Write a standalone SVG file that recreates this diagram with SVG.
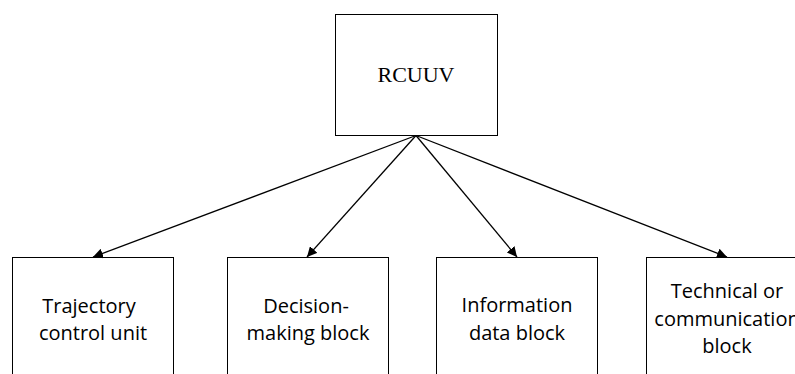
<svg xmlns="http://www.w3.org/2000/svg" width="795" height="374" viewBox="0 0 795 374">
<style>
.box{fill:#fff;stroke:#000;stroke-width:1}
.t{font-family:"Open Sans","Liberation Sans",sans-serif;font-size:20px;fill:#000;text-anchor:middle}
.tm{font-family:"Liberation Serif","Times New Roman",serif;font-size:22px;fill:#000;text-anchor:middle}
.c{stroke:#000;stroke-width:1.3;fill:none;marker-end:url(#ah)}
</style>
<defs>
<marker id="ah" viewBox="0 0 10 10" refX="10" refY="5" markerWidth="10" markerHeight="10" markerUnits="userSpaceOnUse" orient="auto">
<path d="M0,0 L10,5 L0,10 z" fill="#000"/>
</marker>
</defs>
<rect width="795" height="374" fill="#fff"/>
<g id="rcuuv">
<rect class="box" x="335.5" y="14.5" width="162" height="121"/>
<text class="tm" x="416" y="82">RCUUV</text>
</g>
<g id="trajectory">
<rect class="box" x="12.5" y="257.5" width="161" height="130"/>
<text class="t" x="89" y="313">Trajectory</text>
<text class="t" x="93" y="340">control unit</text>
</g>
<g id="decision">
<rect class="box" x="227.5" y="257.5" width="161" height="130"/>
<text class="t" x="306" y="313">Decision-</text>
<text class="t" x="308" y="340">making block</text>
</g>
<g id="information">
<rect class="box" x="436.5" y="257.5" width="161" height="130"/>
<text class="t" x="517" y="312">Information</text>
<text class="t" x="517" y="340">data block</text>
</g>
<g id="technical">
<rect class="box" x="646.5" y="257.5" width="161" height="130"/>
<text class="t" x="727" y="298">Technical or</text>
<text class="t" x="727" y="326">communication</text>
<text class="t" x="727" y="353">block</text>
</g>
<g id="connectors">
<line class="c" x1="416" y1="135.5" x2="93" y2="257"/>
<line class="c" x1="416" y1="135.5" x2="307" y2="257"/>
<line class="c" x1="416" y1="135.5" x2="517" y2="257"/>
<line class="c" x1="416" y1="135.5" x2="727" y2="257"/>
</g>
</svg>
